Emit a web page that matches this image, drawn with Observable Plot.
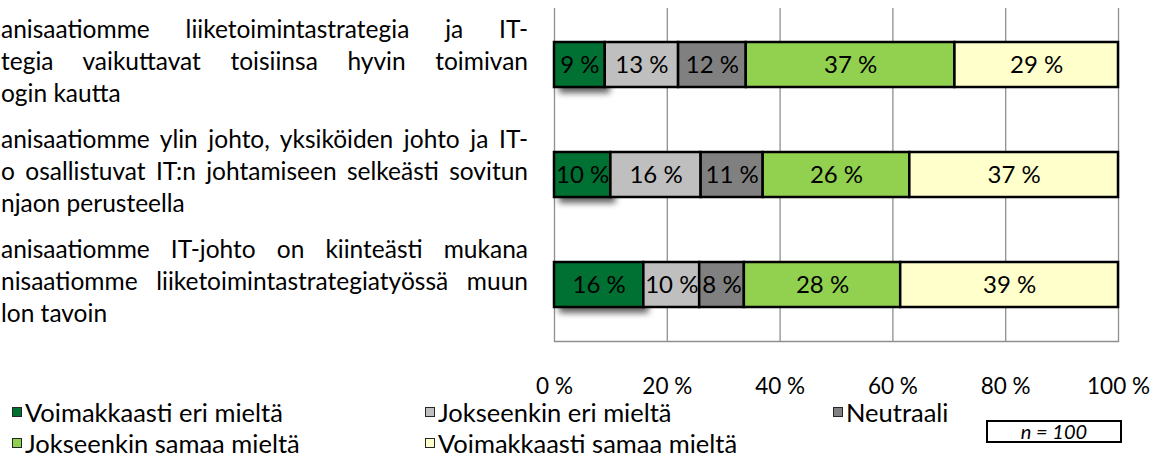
<!DOCTYPE html>
<html>
<head>
<meta charset="utf-8">
<script src="https://cdn.jsdelivr.net/npm/d3@7"></script>
<script src="https://cdn.jsdelivr.net/npm/@observablehq/plot@0.6"></script>
<style>
  html, body { margin: 0; padding: 0; background: #fff; }
  body { width: 1157px; height: 458px; overflow: hidden; position: relative; font-family: Lato, "Open Sans", sans-serif; color: #000; }
  #chart { position: absolute; left: 0; top: 0; }
  .q { position: absolute; left: 1px; width: 527px; font-size: 24.5px; }
  .q div { height: 32px; line-height: 32px; text-align: justify; text-align-last: justify; }
  .q div.last { text-align-last: left; }
  .leg { position: absolute; font-size: 25.5px; line-height: 28px; white-space: nowrap; }
  .leg .sw { position: absolute; left: 0; top: 9px; width: 8px; height: 8px; border: 1.5px solid #262626; }
  .leg span.t { position: absolute; left: 13px; top: 0; }
  #nbox { position: absolute; left: 986px; top: 420px; width: 132px; height: 19px; border: 2px solid #000; font-style: italic; font-size: 20px; line-height: 19px; text-align: center; }
</style>
</head>
<body>
<div id="chart"></div>
<script>
// ---- data ----
const categories = ["Voimakkaasti eri mieltä", "Jokseenkin eri mieltä", "Neutraali", "Jokseenkin samaa mieltä", "Voimakkaasti samaa mieltä"];
const colors = ["#007033", "#BFBFBF", "#808080", "#92D050", "#FFFFCC"];
const questions = ["Q1", "Q2", "Q3"];
// question texts as visible in the (left-cropped) reference
const questionLines = [
  ["anisaatiomme liiketoimintastrategia ja IT-", "tegia vaikuttavat toisiinsa hyvin toimivan", "ogin kautta"],
  ["anisaatiomme ylin johto, yksiköiden johto ja IT-", "o osallistuvat IT:n johtamiseen selkeästi sovitun", "njaon perusteella"],
  ["anisaatiomme IT-johto on kiinteästi mukana", "nisaatiomme liiketoimintastrategiatyössä muun", "lon tavoin"]
];
const q1Values = [9, 13, 12, 37, 29];
const q2Values = [10, 16, 11, 26, 37];
const q3Values = [16, 10, 8, 28, 39];
const tickValues = [0, 0.2, 0.4, 0.6, 0.8, 1];
const nLabel = "n = 100";

const seriesValues = [q1Values, q2Values, q3Values];
const data = [];
questions.forEach((q, i) => categories.forEach((c, j) => data.push({question: q, category: c, value: seriesValues[i][j], first: j === 0 ? 1 : 0})));

const stackOpts = {offset: "normalize", x: "value", y: "question", order: null};

const chart = Plot.plot({
  width: 1157,
  height: 458,
  marginLeft: 554,
  marginRight: 39,
  marginTop: 8,
  marginBottom: 117,
  style: {fontFamily: "Lato, 'Open Sans', sans-serif", fontSize: "22px", color: "#000", background: "transparent"},
  x: {domain: [0, 1], axis: null},
  y: {domain: questions, paddingInner: 0.589, paddingOuter: 0.295, axis: null},
  color: {domain: categories, range: colors},
  opacity: {domain: [0, 1], range: [0, 1]},
  marks: [
    Plot.gridX(tickValues, {stroke: "#8f8f8f", strokeOpacity: 1, strokeWidth: 1.3}),
    Plot.frame({anchor: "bottom", stroke: "#8f8f8f", strokeWidth: 1.3}),
    Plot.axisX(tickValues, {anchor: "bottom", label: null, tickSize: 0, tickPadding: 37, fontSize: 22.5, tickFormat: d => `${Math.round(d * 100)} %`}),
    Plot.barX(data, Plot.stackX({...stackOpts, fill: "#3a3a3a", fillOpacity: "first", dx: 5, dy: 6})),
    Plot.barX(data, Plot.stackX({...stackOpts, fill: "category", stroke: "#000", strokeWidth: 2.5})),
    Plot.text(data, Plot.stackX({...stackOpts, text: d => `${d.value} %`, fill: "#000", fontSize: 24}))
  ]
});
document.getElementById("chart").appendChild(chart);

// blur the shadow bars
const shadowGroup = chart.querySelectorAll('g[aria-label="bar"]')[0];
if (shadowGroup) { shadowGroup.style.filter = "blur(3px)"; shadowGroup.style.opacity = "0.8"; }

// question texts, aligned to the y scale bands
const yScale = chart.scale("y");
const bw = yScale.bandwidth;
questions.forEach((q, i) => {
  const center = yScale.apply(q) + bw / 2;
  const block = document.createElement("div");
  block.className = "q";
  block.style.top = (center - 52) + "px";
  questionLines[i].forEach((line, k) => {
    const d = document.createElement("div");
    d.textContent = line;
    if (k === questionLines[i].length - 1) d.className = "last";
    block.appendChild(d);
  });
  document.body.appendChild(block);
});

// legend
const legCols = [12, 425, 833];
const legRows = [398, 429];
categories.forEach((c, j) => {
  const item = document.createElement("div");
  item.className = "leg";
  item.style.left = legCols[j % 3] + "px";
  item.style.top = legRows[Math.floor(j / 3)] + "px";
  const sw = document.createElement("div");
  sw.className = "sw";
  sw.style.background = colors[j];
  const t = document.createElement("span");
  t.className = "t";
  t.textContent = c;
  item.appendChild(sw);
  item.appendChild(t);
  document.body.appendChild(item);
});

const nb = document.createElement("div");
nb.id = "nbox";
nb.textContent = nLabel;
document.body.appendChild(nb);
</script>
</body>
</html>
